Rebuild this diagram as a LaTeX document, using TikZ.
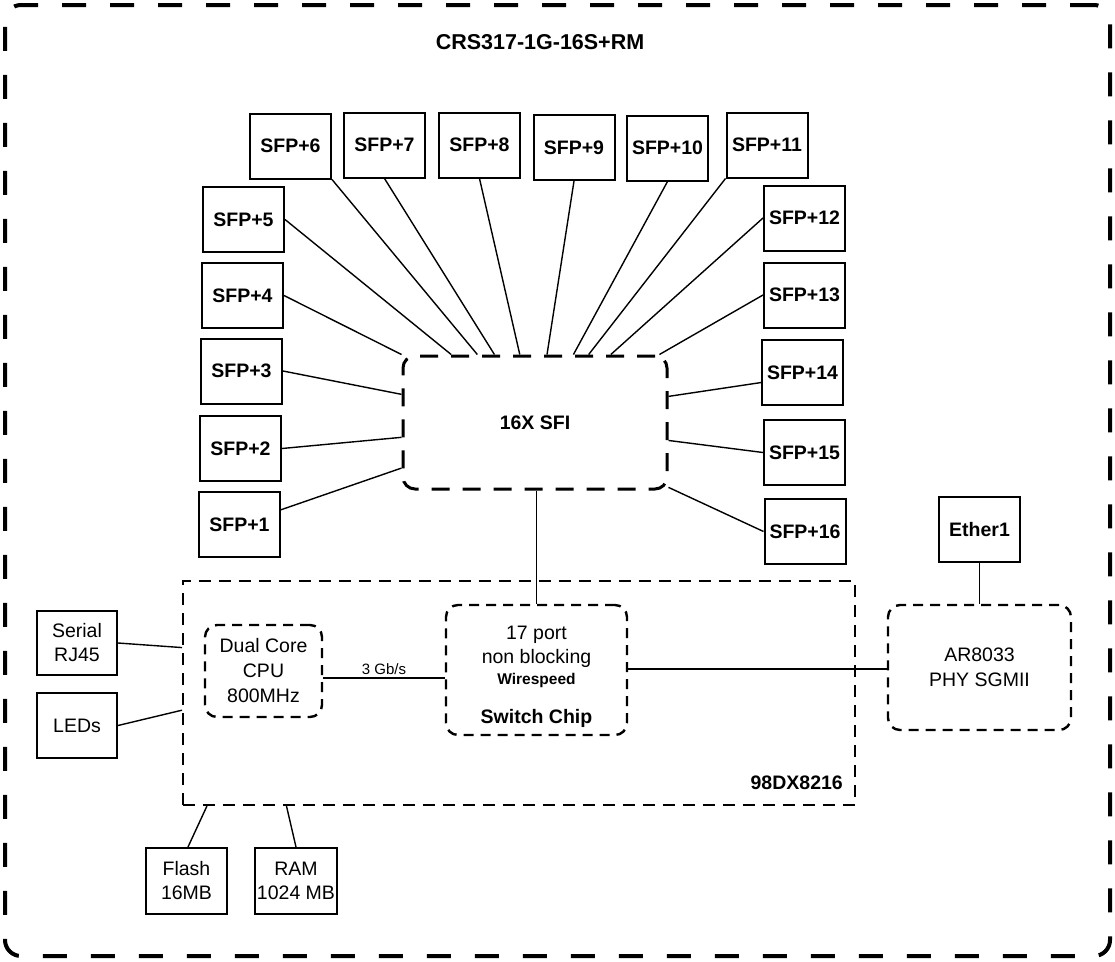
\documentclass[tikz,border=0pt]{standalone}
\usepackage{fontspec}
\setmainfont{Liberation Sans}
\usetikzlibrary{calc}
\begin{document}
\begin{tikzpicture}[x=1pt,y=-1pt,
  port/.style={draw, line width=2pt, minimum width=81pt, minimum height=65pt, inner sep=0pt, font=\bfseries\fontsize{19.5}{21}\selectfont},
  plainbox/.style={draw, line width=2pt, minimum width=81pt, minimum height=65pt, inner sep=0pt, align=center, font=\fontsize{19.5}{24}\selectfont},
  wire/.style={line width=1.4pt},
  dbox/.style={draw, rounded corners=12pt, line width=2.4pt, dash pattern=on 10pt off 7pt, inner sep=0pt, align=center, font=\fontsize{19.5}{25}\selectfont},
  normtxt/.style={font=\fontsize{19.5}{22}\selectfont, inner sep=0pt},
  boldtxt/.style={font=\bfseries\fontsize{19.5}{22}\selectfont, inner sep=0pt}
]
\useasboundingbox (0,0) rectangle (1115,961);
% outer frame
\node[draw, line width=4pt, dash pattern=on 24pt off 24pt, rounded corners=16pt, minimum width=1105pt, minimum height=951pt, inner sep=0pt] (outer) at (557.5,480.5) {};
\node[boldtxt, font=\bfseries\fontsize{21.5}{23}\selectfont] (title) at (540,42) {CRS317-1G-16S+RM};

% SFI block
\node[draw, rounded corners=12pt, line width=3pt, dash pattern=on 18pt off 13pt, minimum width=264pt, minimum height=133pt, inner sep=0pt, font=\bfseries\fontsize{19.5}{22}\selectfont] (sfi) at (535,422.5) {16X SFI};

% SFP ports
\node[port] (sfp1) at (239.5,524.5) {SFP+1};
\node[port] (sfp2) at (240.5,448.5) {SFP+2};
\node[port] (sfp3) at (241.5,371) {SFP+3};
\node[port] (sfp4) at (242.5,295.5) {SFP+4};
\node[port] (sfp5) at (243.5,219.5) {SFP+5};
\node[port] (sfp6) at (290.5,146) {SFP+6};
\node[port] (sfp7) at (384.5,145) {SFP+7};
\node[port] (sfp8) at (479.5,145) {SFP+8};
\node[port] (sfp9) at (574,147.5) {SFP+9};
\node[port] (sfp10) at (667.5,148) {SFP+10};
\node[port] (sfp11) at (767,145) {SFP+11};
\node[port] (sfp12) at (804.5,218) {SFP+12};
\node[port] (sfp13) at (804.5,295) {SFP+13};
\node[port] (sfp14) at (802.5,372.5) {SFP+14};
\node[port] (sfp15) at (804.5,452.5) {SFP+15};
\node[port] (sfp16) at (805,531.5) {SFP+16};

% SFP connectors
\draw[wire] ($(sfp1.north east)!0.28!(sfp1.south east)$) -- ($(sfi.north west)!0.835!(sfi.south west)$);
\draw[wire] (sfp2.east) -- ($(sfi.north west)!0.609!(sfi.south west)$);
\draw[wire] (sfp3.east) -- ($(sfi.north west)!0.293!(sfi.south west)$);
\draw[wire] (sfp4.east) -- (sfi.north west);
\draw[wire] (sfp5.east) -- ($(sfi.north west)!0.186!(sfi.north east)$);
\draw[wire] (sfp6.south east) -- ($(sfi.north west)!0.284!(sfi.north east)$);
\draw[wire] (sfp7.south) -- ($(sfi.north west)!0.348!(sfi.north east)$);
\draw[wire] (sfp8.south) -- ($(sfi.north west)!0.443!(sfi.north east)$);
\draw[wire] (sfp9.south) -- ($(sfi.north west)!0.545!(sfi.north east)$);
\draw[wire] (sfp10.south) -- ($(sfi.north west)!0.644!(sfi.north east)$);
\draw[wire] (sfp11.south west) -- ($(sfi.north west)!0.701!(sfi.north east)$);
\draw[wire] (sfp12.west) -- ($(sfi.north west)!0.784!(sfi.north east)$);
\draw[wire] (sfp13.west) -- ($(sfi.north west)!0.966!(sfi.north east)$);
\draw[wire] ($(sfp14.north west)!0.65!(sfp14.south west)$) -- ($(sfi.north east)!0.308!(sfi.south east)$);
\draw[wire] (sfp15.west) -- ($(sfi.north east)!0.632!(sfi.south east)$);
\draw[wire] (sfp16.west) -- ($(sfi.north east)!0.977!(sfi.south east)$);

% SoC
\node[draw, line width=2pt, dash pattern=on 12pt off 8pt, minimum width=672pt, minimum height=224pt, inner sep=0pt] (soc) at (519,693) {};
\node[boldtxt, anchor=east] (socname) at ($(soc.south east)+(-13,-23)$) {98DX8216};

\node[dbox, minimum width=181pt, minimum height=130pt] (chip) at (536.5,670) {};
\node[normtxt] (chipa) at (536.5,635) {17 port};
\node[normtxt] (chipb) at (536.5,658) {non blocking};
\node[boldtxt, font=\bfseries\fontsize{15.5}{17}\selectfont] (chipc) at (536.5,680) {Wirespeed};
\node[boldtxt] (chipd) at (536.5,718) {Switch Chip};

\node[dbox, minimum width=117pt, minimum height=92pt] (cpu) at (263.5,671) {Dual Core\\CPU\\800MHz};

\node[dbox, minimum width=183pt, minimum height=125pt] (phy) at (979.5,667.5) {AR8033\\PHY SGMII};
\node[port] (ether) at (979.5,529.5) {Ether1};

\node[plainbox, minimum width=80pt, minimum height=64pt] (serial) at (77,643) {Serial\\RJ45};
\node[plainbox, minimum width=80pt, minimum height=65pt] (leds) at (77,725.5) {LEDs};
\node[plainbox, minimum height=66pt] (flash) at (186.5,881) {Flash\\16MB};
\node[plainbox, minimum width=82pt, minimum height=66pt] (ram) at (296,881) {RAM\\1024 MB};

% connectors
\draw[wire] (sfi.south -| chipa) -- (chip.north);
\draw[wire] ($(cpu.east)+(0,7)$) coordinate (c1) -- (c1 -| chip.west) node[midway, above=3pt, font=\fontsize{15}{16}\selectfont, inner sep=0pt] {3 Gb/s};
\draw[wire] ($(chip.east)+(0,-1)$) coordinate (c2) -- (c2 -| phy.west);
\draw[wire] (ether.south) -- (phy.north);
\draw[wire] (serial.east) -- ($(soc.north west)!0.299!(soc.south west)$);
\draw[wire] (leds.east) -- ($(soc.north west)!0.576!(soc.south west)$);
\draw[wire] ($(flash.north)+(1.5,0)$) -- ($(soc.south west)!0.037!(soc.south east)$);
\draw[wire] (ram.north) -- ($(soc.south west)!0.155!(soc.south east)$);
\end{tikzpicture}
\end{document}
